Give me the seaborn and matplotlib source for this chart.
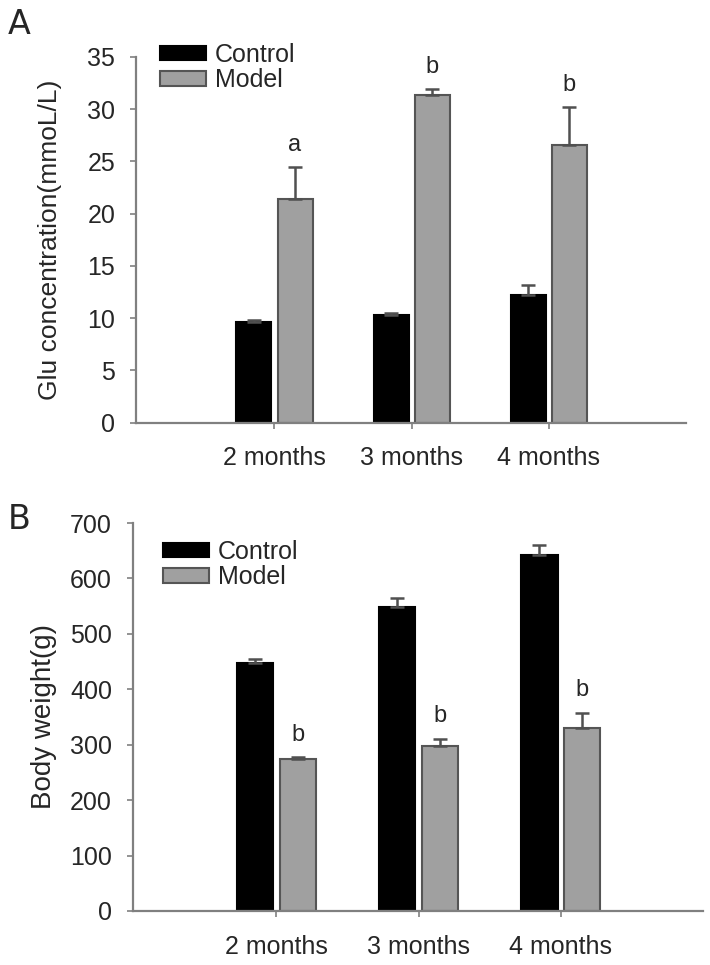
import numpy as np
import pandas as pd
import seaborn as sns
import matplotlib.pyplot as plt
from matplotlib.patches import Patch

# values
months = ["2 months", "3 months", "4 months"]
groups = ["Control", "Model"]

glu_control = [9.6, 10.3, 12.2]
glu_control_err = [0.2, 0.15, 0.95]
glu_model = [21.4, 31.4, 26.6]
glu_model_err = [3.1, 0.55, 3.6]
glu_marks = ["a", "b", "b"]

bw_control = [447, 549, 643]
bw_control_err = [8, 15, 18]
bw_model = [275, 298, 330]
bw_model_err = [3, 13, 28]
bw_marks = ["b", "b", "b"]

sns.set_style("ticks")
plt.rcParams["font.family"] = ["Liberation Sans", "DejaVu Sans"]

fill = {"Control": "black", "Model": "#a0a0a0"}
edge = {"Control": "black", "Model": "#555555"}
axis_grey = "#808080"


def panel(ax, control, control_err, model, model_err, marks, ymax, ystep,
          ylabel, tick_size, label_size, label_pad):
    df = pd.DataFrame({
        "month": months * 2,
        "group": ["Control"] * 3 + ["Model"] * 3,
        "value": control + model,
    })
    sns.barplot(data=df, x="month", y="value", hue="group", order=months,
                hue_order=groups, palette=fill, width=0.6, gap=0.15,
                errorbar=None, legend=False, ax=ax)

    errs = {"Control": control_err, "Model": model_err}
    for grp, cont in zip(groups, ax.containers):
        xs, ys = [], []
        for bar in cont:
            bar.set_edgecolor(edge[grp])
            bar.set_linewidth(1.5)
            xs.append(bar.get_x() + bar.get_width() / 2)
            ys.append(bar.get_height())
        err = errs[grp]
        ax.errorbar(xs, ys, yerr=[np.zeros(len(err)), err], fmt="none",
                    ecolor="#505050", elinewidth=1.8, capsize=5, capthick=1.8,
                    zorder=3)
        if grp == "Model":
            for x, y, e, m in zip(xs, ys, err, marks):
                ax.annotate(m, (x, y + e), xytext=(0, 8), textcoords="offset points",
                            ha="center", va="bottom", fontsize=17)

    ax.set_xlim(-1.01, 3.0)
    ax.set_ylim(0, ymax)
    ax.set_yticks(np.arange(0, ymax + 1, ystep))
    ax.set_xlabel("")
    ax.set_ylabel(ylabel, fontsize=label_size, labelpad=label_pad)
    sns.despine(ax=ax)
    for s in ["left", "bottom"]:
        ax.spines[s].set_color(axis_grey)
        ax.spines[s].set_linewidth(1.6)
    ax.tick_params(axis="y", direction="out", length=4, width=1.2, color=axis_grey,
                   labelsize=tick_size, pad=11)
    ax.tick_params(axis="x", direction="out", length=4, width=1.2, color=axis_grey,
                   labelsize=18, pad=13)


fig = plt.figure(figsize=(7.1, 9.65), dpi=100)
axA = fig.add_axes([0.1915, 0.562, 0.7746, 0.379])
axB = fig.add_axes([0.187, 0.056, 0.803, 0.402])

panel(axA, glu_control, glu_control_err, glu_model, glu_model_err, glu_marks,
      35, 5, "Glu concentration(mmoL/L)", 18, 19, 18)
panel(axB, bw_control, bw_control_err, bw_model, bw_model_err, bw_marks,
      700, 100, "Body weight(g)", 18, 20, 9)

handles = [Patch(facecolor=fill[g], edgecolor=edge[g], linewidth=1.5) for g in groups]
for anchor in [(160 / 710, 1 - 43 / 965), (163 / 710, 1 - 540 / 965)]:
    fig.legend(handles, groups, loc="upper left", bbox_to_anchor=anchor,
               frameon=False, fontsize=18, handlelength=1.84, handleheight=0.52,
               handletextpad=0.36, labelspacing=0.05, borderpad=0, borderaxespad=0)

fig.text(8 / 710, 1 - 8 / 965, "A", fontsize=24, va="top", ha="left",
         family=["Liberation Sans Narrow", "DejaVu Sans"])
fig.text(8 / 710, 1 - 503 / 965, "B", fontsize=24, va="top", ha="left",
         family=["Liberation Sans Narrow", "DejaVu Sans"])

fig.savefig("out.png", dpi=100)
